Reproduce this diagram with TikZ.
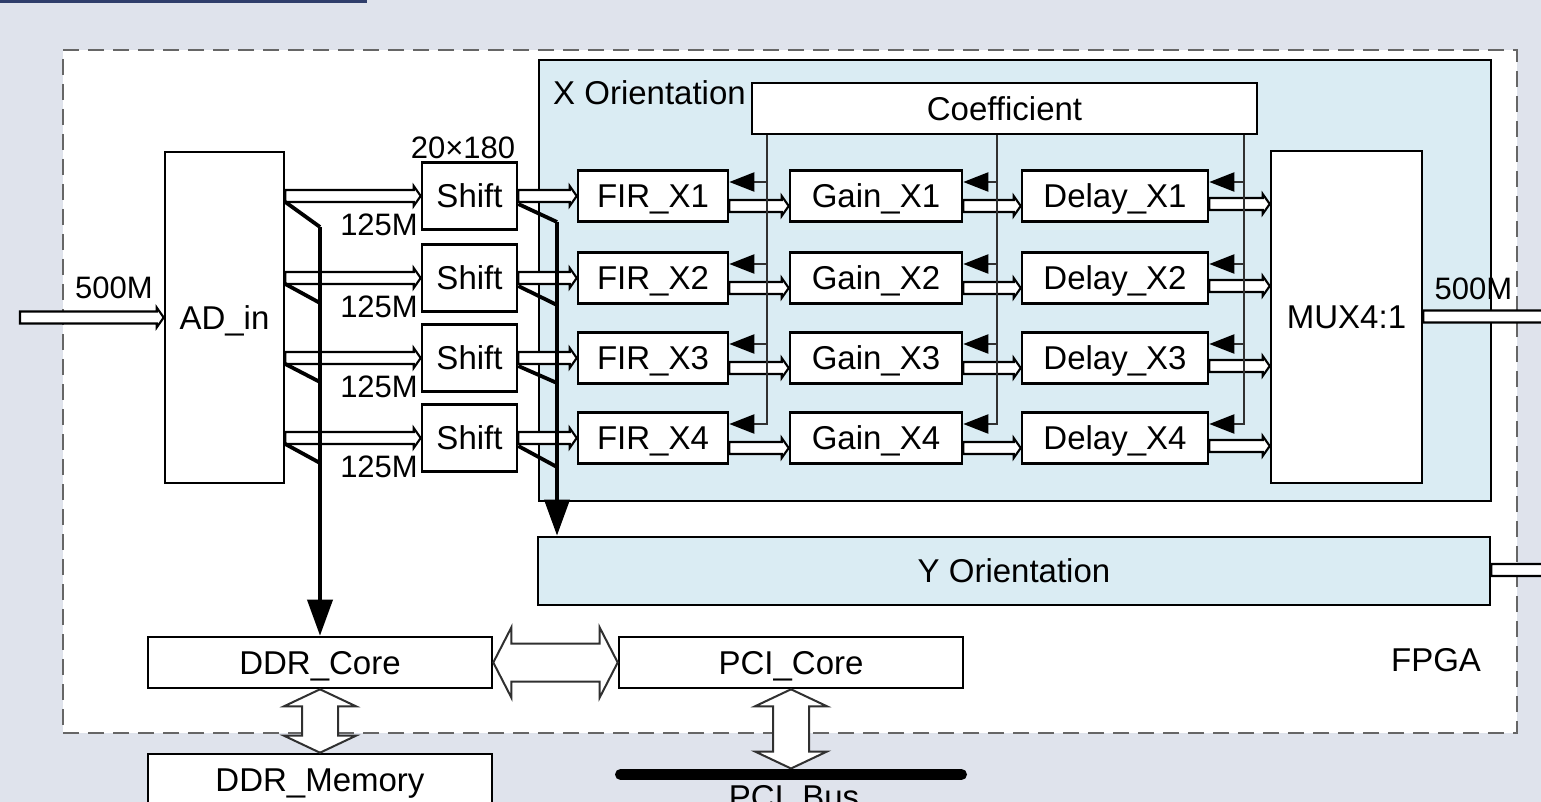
\documentclass[tikz,border=0pt]{standalone}
\usepackage{fontspec}
\setmainfont{Liberation Sans}
\usetikzlibrary{arrows.meta,calc}

\definecolor{pagebg}{HTML}{DFE3EC}
\definecolor{panel}{HTML}{DAECF3}
\definecolor{navy}{HTML}{2F3E6B}
\definecolor{dashgrey}{HTML}{666666}
\definecolor{wire}{HTML}{303030}

\newcommand\boxfont{\fontsize{33pt}{38pt}\selectfont}
\newcommand\smallfont{\fontsize{31pt}{36pt}\selectfont}

\tikzset{
  lbl/.style={font=\boxfont, text height=23.6pt, text depth=0pt, inner sep=0pt},
  slbl/.style={font=\smallfont, text height=22.2pt, text depth=0pt, inner sep=0pt},
  blk/.style={lbl, draw=black, line width=2.6pt, fill=white},
  panelbox/.style={lbl, draw=black, line width=2.8pt, fill=panel},
  % flat double-line bus arrow, horizontal, at the start point's height
  hollow/.style={draw=black, fill=white, line width=2.1pt,
    to path={let \p1=(\tikztostart), \p2=(\tikztotarget) in
      (\x1,\y1+6pt) -- (\x2-7pt,\y1+6pt) -- (\x2-7pt,\y1+10pt) -- (\x2,\y1)
      -- (\x2-7pt,\y1-10pt) -- (\x2-7pt,\y1-6pt) -- (\x1,\y1-6pt) -- cycle}},
  % wide two-headed block arrows
  bigh/.style={draw=wire, fill=white, line width=2pt,
    to path={let \p1=(\tikztostart), \p2=(\tikztotarget) in
      (\x1,\y1) -- (\x1+18pt,\y1+35pt) -- (\x1+18pt,\y1+19pt) -- (\x2-18pt,\y1+19pt)
      -- (\x2-18pt,\y1+35pt) -- (\x2,\y1) -- (\x2-18pt,\y1-35pt) -- (\x2-18pt,\y1-19pt)
      -- (\x1+18pt,\y1-19pt) -- (\x1+18pt,\y1-35pt) -- cycle}},
  bigv/.style={draw=wire, fill=white, line width=2pt,
    to path={let \p1=(\tikztostart), \p2=(\tikztotarget) in
      (\x1,\y1) -- (\x1+36pt,\y1-17pt) -- (\x1+18pt,\y1-17pt) -- (\x1+18pt,\y2+17pt)
      -- (\x1+36pt,\y2+17pt) -- (\x1,\y2) -- (\x1-36pt,\y2+17pt) -- (\x1-18pt,\y2+17pt)
      -- (\x1-18pt,\y1-17pt) -- (\x1-36pt,\y1-17pt) -- cycle}},
  coefwire/.style={draw=wire, line width=2.2pt},
  coeftip/.style={coefwire, -{Triangle[length=25pt,width=19pt,color=black,fill=black]}},
  heavy/.style={draw=black, line width=3.8pt},
  heavytip/.style={heavy, -{Triangle[length=36pt,width=25pt]}},
}

\begin{document}
\begin{tikzpicture}[x=1pt, y=-1pt]
  \useasboundingbox (0,0) rectangle (1541,802);
  \clip (0,0) rectangle (1541,802);
  \fill[pagebg] (0,0) rectangle (1541,802);
  \fill[navy] (0,0) rectangle (367,3);

  % FPGA outline
  \node[draw=dashgrey, fill=white, line width=2.6pt, dash pattern=on 16pt off 9pt,
        minimum width=1454pt, minimum height=683pt, inner sep=0pt] (fpga) at (790,391.5) {};
  \node[lbl] (fpgalbl) at (1436,660) {FPGA};

  % orientation panels
  \node[panelbox, minimum width=952pt, minimum height=441pt] (xpanel) at (1015,280.5) {};
  \node[lbl, anchor=west] (xlbl) at (553,93) {X Orientation};
  \node[panelbox, minimum width=952pt, minimum height=68pt] (ybox) at (1014,571) {Y Orientation};

  % blocks
  \node[blk, minimum width=119pt, minimum height=331pt] (ad) at (224.5,317.5) {AD\_in};
  \node[blk, minimum width=505pt, minimum height=51pt] (coef) at (1004.5,108.5) {Coefficient};
  \node[blk, minimum width=151pt, minimum height=332pt] (mux) at (1346.5,317) {MUX4:1};
  \foreach \r/\y in {1/196,2/278,3/358,4/438}{
    \node[blk, minimum width=95pt, minimum height=67pt] (sh\r) at (469.5,\y) {Shift};
    \node[blk, minimum width=150pt, minimum height=51pt] (fir\r) at (653,\y) {FIR\_X\r};
    \node[blk, minimum width=172pt, minimum height=51pt] (gain\r) at (876,\y) {Gain\_X\r};
    \node[blk, minimum width=186pt, minimum height=51pt] (delay\r) at (1115,\y) {Delay\_X\r};
    \node[slbl, anchor=east] (rate\r) at (418,\y+28) {125M};
  }
  \node[slbl] (shlbl) at (463,147) {20×180};
  \node[blk, minimum width=344pt, minimum height=51pt] (ddr) at (320,662.5) {DDR\_Core};
  \node[blk, minimum width=344pt, minimum height=51pt] (pci) at (791,662.5) {PCI\_Core};
  \node[blk, minimum width=344pt, minimum height=51pt] (mem) at (320,779.5) {DDR\_Memory};

  % data paths
  \coordinate (adc) at (20,317.5);
  \draw[hollow] (adc) to (ad.west);
  \node[slbl] (inlbl) at (114,287.5) {500M};
  \foreach \r in {1,2,3,4}{
    \draw[hollow] (ad.east |- sh\r) to (sh\r.west);
    \draw[hollow] (sh\r.east) to (fir\r.west);
    \draw[hollow] ($(fir\r.east)+(0,10)$) to (gain\r.west);
    \draw[hollow] ($(gain\r.east)+(0,10)$) to (delay\r.west);
    \draw[hollow] ($(delay\r.east)+(0,8)$) to (mux.west);
  }
  \coordinate (muxout) at (1565,316.5);
  \draw[hollow] (mux.east |- muxout) to (muxout);
  \node[slbl] (outlbl) at (1473.5,288) {500M};
  \coordinate (yout) at (1565,570);
  \draw[hollow] (ybox.east |- yout) to (yout);

  % coefficient distribution
  \foreach \b/\k in {fir/767, gain/997, delay/1244}{
    \coordinate (col) at (\k,0);
    \foreach \r in {1,2,3}{
      \coordinate (t) at ($(\b\r.east)+(0,-14)$);
      \draw[coeftip] (col |- t) -- (t);
    }
    \coordinate (t) at ($(\b4.east)+(0,-14)$);
    \draw[coeftip] (col |- coef.south) |- (t);
  }

  % taps to DDR and to the Y branch
  \coordinate (dd1) at (320,227);
  \coordinate (dd2) at (320,303);
  \coordinate (dd3) at (320,382);
  \coordinate (dd4) at (320,463);
  \coordinate (yy1) at (557,222);
  \coordinate (yy2) at (557,305);
  \coordinate (yy3) at (557,383);
  \coordinate (yy4) at (557,467);
  \foreach \r in {1,2,3,4}{
    \draw[heavy] ($(ad.east |- sh\r)+(0,6)$) -- (dd\r);
    \draw[heavy] ($(sh\r.east)+(0,8)$) -- (yy\r);
  }
  \draw[heavytip] (dd1) -- (dd1 |- ddr.north);
  \draw[heavytip] (yy1) -- (yy1 |- ybox.north);

  % memory and host interfaces
  \draw[bigh] (ddr.east) to (pci.west);
  \draw[bigv] (ddr.south) to (mem.north);
  \coordinate (busL) at (620.5,774.5);
  \coordinate (busR) at (961.5,774.5);
  \coordinate (bustop) at (791,768.5);
  \draw[bigv] (pci.south) to (bustop);
  \draw[line width=11pt, line cap=round] (busL) -- (busR);
  \node[lbl, anchor=north] (buslbl) at (794,785) {PCI\_Bus};
\end{tikzpicture}
\end{document}
